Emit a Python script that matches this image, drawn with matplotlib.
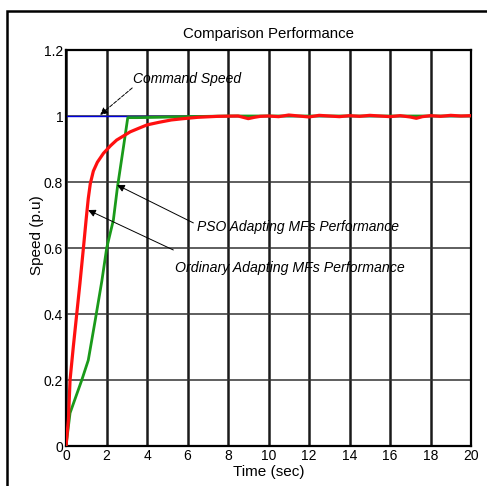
import matplotlib
matplotlib.use("Agg")
import matplotlib.pyplot as plt
from matplotlib.patches import Rectangle

plt.rcParams['font.family'] = ['Liberation Sans', 'DejaVu Sans']

# Data
cmd_t = [0, 20]
cmd_y = [1.0, 1.0]

green_t = [0, 0.2, 0.78, 1.1, 1.44, 1.77, 2.01, 2.34, 2.54, 2.84, 3.05, 3.5, 4.5, 6, 8, 10, 12, 14, 16, 18, 20]
green_y = [0, 0.1, 0.2, 0.26, 0.38, 0.5, 0.6, 0.685, 0.784, 0.907, 0.995, 0.995, 0.996, 0.998, 1.0, 1.0, 1.0, 1.0, 1.0, 1.0, 1.0]

red_t = [0, 0.12, 0.2, 0.36, 0.53, 0.69, 0.86, 1.0, 1.1, 1.2, 1.35, 1.55, 1.85, 2.2, 2.5, 2.85, 3.17, 3.6, 4.0,
         4.6, 5.2, 5.8, 6.5, 7.5, 8.5,
         9.0, 9.3, 9.6, 10, 10.5, 11, 11.5, 12, 12.5, 13, 13.5, 14, 14.5, 15, 15.5, 16, 16.5,
         17, 17.3, 17.6, 18, 18.5, 19, 19.5, 20]
red_y = [0, 0.08, 0.2, 0.3, 0.4, 0.494, 0.6, 0.69, 0.75, 0.795, 0.833, 0.86, 0.887, 0.91, 0.927, 0.94, 0.952, 0.963, 0.973,
         0.981, 0.988, 0.992, 0.996, 0.999, 1.0,
         0.992, 0.996, 0.999, 1.0, 0.998, 1.003, 1.0, 0.997, 1.002, 1.0, 0.998, 1.001, 0.999, 1.002, 1.0, 0.998, 1.001,
         0.997, 0.993, 0.998, 1.001, 0.999, 1.002, 1.0, 1.001]

xticks = [0, 2, 4, 6, 8, 10, 12, 14, 16, 18, 20]
yticks = [0, 0.2, 0.4, 0.6, 0.8, 1.0, 1.2]
yticklabels = ['0', '0.2', '0.4', '0.6', '0.8', '1', '1.2']

fig = plt.figure(figsize=(4.87, 4.86), dpi=100)
fig.patches.append(Rectangle((7/487, -0.1), 1.2, 1 - 11/486 + 0.1, transform=fig.transFigure,
                             fill=False, edgecolor='black', linewidth=1.8, clip_on=False))

ax = fig.add_axes([66/487, 1 - 446/486, (471 - 66)/487, (446 - 50)/486])
ax.set_xlim(0, 20)
ax.set_ylim(0, 1.2)

for x in xticks:
    ax.axvline(x, color='#1a1a1a', linewidth=1.8, zorder=1)
for y in yticks:
    ax.axhline(y, color='#333333', linewidth=1.1, zorder=1)

ax.plot(cmd_t, cmd_y, color='#0000dd', linewidth=1.0, zorder=2)
ax.plot(green_t, green_y, color='#1a9a1a', linewidth=2.0, zorder=3)
ax.plot(red_t, red_y, color='#ff1010', linewidth=2.3, zorder=4)

ax.set_xticks(xticks)
ax.set_xticklabels([str(v) for v in xticks], fontsize=10)
ax.set_yticks(yticks)
ax.set_yticklabels(yticklabels, fontsize=10)
ax.tick_params(length=0, pad=2)
for s in ax.spines.values():
    s.set_linewidth(1.6)
    s.set_color('black')

ax.set_title('Comparison Performance', fontsize=10.8, pad=8.5)
ax.set_xlabel('Time (sec)', fontsize=11)
ax.set_ylabel('Speed (p.u)', fontsize=11)
ax.xaxis.set_label_coords(0.5, -(465 - 446) / 396, transform=ax.transAxes)
ax.yaxis.set_label_coords(-(66 - 44) / 405, (446 - 235) / 396, transform=ax.transAxes)

arrow = dict(arrowstyle='-|>', color='black', linewidth=0.7, mutation_scale=11, shrinkA=0, shrinkB=0)
ax.annotate('', xy=(1.68, 1.003), xytext=(3.27, 1.085), arrowprops=dict(arrow, linestyle='--'))
ax.text(3.32, 1.112, 'Command Speed', fontsize=10, style='italic', ha='left', va='center')
ax.annotate('', xy=(2.52, 0.791), xytext=(6.29, 0.676), arrowprops=arrow)
ax.text(6.49, 0.664, 'PSO Adapting MFs Performance', fontsize=10, style='italic', ha='left', va='center')
ax.annotate('', xy=(1.09, 0.715), xytext=(5.30, 0.594), arrowprops=arrow)
ax.text(5.40, 0.539, 'Ordinary Adapting MFs Performance', fontsize=10.2, style='italic', ha='left', va='center')

fig.savefig('out.png', dpi=100)
